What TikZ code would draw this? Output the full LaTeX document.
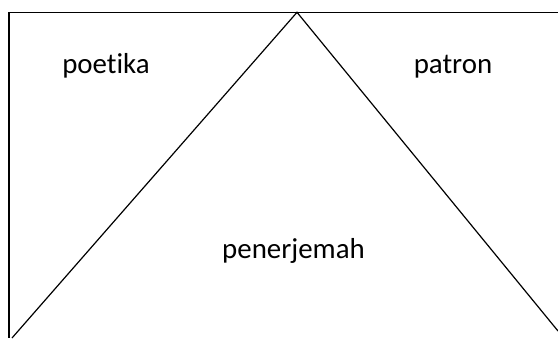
\documentclass[tikz,border=0pt]{standalone}
\usepackage{fontspec}
\setmainfont{Carlito}[Ligatures=NoCommon]
\begin{document}
\begin{tikzpicture}[x=1bp, y=-1bp, every node/.style={inner sep=0pt, font=\fontsize{29}{35}\selectfont}]
            \useasboundingbox (0,0) rectangle (558,338);
            \coordinate (top) at (297,12.3);
            \coordinate (tl) at (9,12.3);
            \coordinate (tr) at (558,12.3);
            \coordinate (bl) at (9,338);
            \coordinate (l) at (12,338);
            \coordinate (r) at (558,331);
            \node[anchor=base] (poetika) at (106,73) {poetika};
            \node[anchor=base] (patron) at (453,73) {patron};
            \node[anchor=base] (penerjemah) at (293.5,258) {penerjemah};
            \draw[line width=1.2bp, black] (tr) -- (tl) -- (bl);
            \draw[line width=1.2bp, black] (l) -- (top) -- (r);
        \end{tikzpicture}
\end{document}
